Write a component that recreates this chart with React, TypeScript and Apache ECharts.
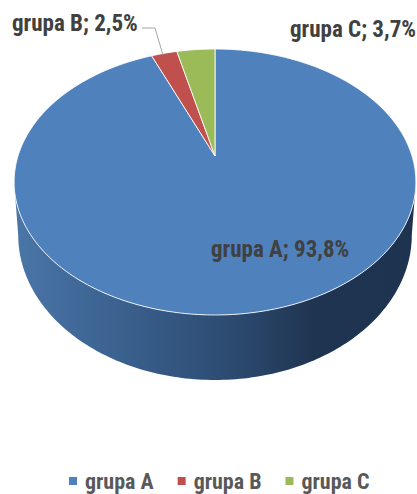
import React, { useEffect, useRef } from "react";
import * as echarts from "echarts";

const groups = ["grupa A", "grupa B", "grupa C"];
const shares = [93.8, 2.5, 3.7];
const colors = ["#4f81bd", "#c0504d", "#9bbb59"];
const family = "'Roboto Condensed', 'Liberation Sans Narrow', 'Liberation Sans', sans-serif";
const labelFont = `bold 24px ${family}`;

const total = shares.reduce((a, b) => a + b, 0);
const K = 0.1955;
const project = (deg: number, R: number, H: number, y0: number) => {
  const t = (deg * Math.PI) / 180;
  const u = Math.sin(t);
  const v = Math.cos(t);
  const d = 1 + K * v;
  return [215 + (R * u) / d, y0 - (H * v) / d];
};
const top = (deg: number) => project(deg, 197, 127.9, 156);
const bottom = (deg: number) => project(deg, 193, 139.4, 206.7);
const arc = (from: number, to: number, f: (d: number) => number[]) => {
  const pts: number[][] = [];
  const n = Math.max(2, Math.ceil(Math.abs(to - from)));
  for (let i = 0; i <= n; i++) pts.push(f(from + ((to - from) * i) / n));
  return pts;
};
const labelAt = [
  { x: 211, y: 249 },
  { x: 12, y: 23 },
  { x: 290, y: 29 },
];

export default function App() {
  const ref = useRef<HTMLDivElement>(null);
  useEffect(() => {
    const chart = echarts.init(ref.current!, undefined, { renderer: "svg" });
    const visFrom = (Math.acos(-K) * 180) / Math.PI;
    const visTo = 360 - visFrom;
    let acc = 0;
    const series = groups.map((name, i) => {
      const start = (acc / total) * 360;
      acc += shares[i];
      const end = (acc / total) * 360;
      return {
        type: "custom",
        name,
        coordinateSystem: "none",
        silent: true,
        itemStyle: { color: colors[i] },
        data: [[shares[i]]],
        z: 2,
        renderItem: () => {
          const children: any[] = [];
          const a = Math.max(start, visFrom);
          const b = Math.min(end, visTo);
          if (b > a) {
            const points = [...arc(a, b, top), ...arc(b, a, bottom)];
            children.push({
              type: "polygon",
              shape: { points },
              style: {
                fill: new echarts.graphic.LinearGradient(0, 0, 1, 0, [
                  { offset: 0, color: "#4a76a8" },
                  { offset: 0.25, color: "#3b6290" },
                  { offset: 0.55, color: "#2c4a70" },
                  { offset: 0.75, color: "#1f3450" },
                  { offset: 1, color: "#1e3350" },
                ]),
              },
            });
          }
          children.push({
            type: "polygon",
            shape: { points: [[215, 156], ...arc(start, end, top)] },
            style: { fill: colors[i], stroke: "rgba(255,255,255,0.85)", lineWidth: 1 },
          });
          return { type: "group", children };
        },
      };
    });
    const labels = {
      type: "custom",
      name: "labels",
      coordinateSystem: "none",
      silent: true,
      data: shares.map((s) => [s]),
      z: 5,
      renderItem: (p: any, api: any) => {
        const i = p.dataIndex;
        const text = `${groups[i]}; ${String(api.value(0)).replace(".", ",")}%`;
        return {
          type: "text",
          x: labelAt[i].x,
          y: labelAt[i].y,
          scaleX: 0.96,
          style: { text, font: labelFont, fill: "#404040", textVerticalAlign: "middle" },
        };
      },
    };
    chart.setOption({
      animation: false,
      backgroundColor: "#ffffff",
      legend: {
        data: groups,
        left: 64,
        top: 465,
        itemWidth: 8,
        itemHeight: 8,
        itemGap: 24,
        icon: "rect",
        selectedMode: false,
        textStyle: { color: "#595959", fontSize: 22, fontFamily: family, fontWeight: "bold", padding: [0, 0, 0, 3] },
      },
      series: [...series, labels],
      graphic: [
        {
          type: "polyline",
          z: 6,
          shape: { points: [[142, 28], [155, 28], [163, 55]] },
          style: { stroke: "#a6a6a6", lineWidth: 1, fill: "none" },
        },
      ],
    });
    return () => chart.dispose();
  }, []);
  return <div ref={ref} style={{ position: "absolute", left: 0, top: 0, width: 417, height: 494 }} />;
}
